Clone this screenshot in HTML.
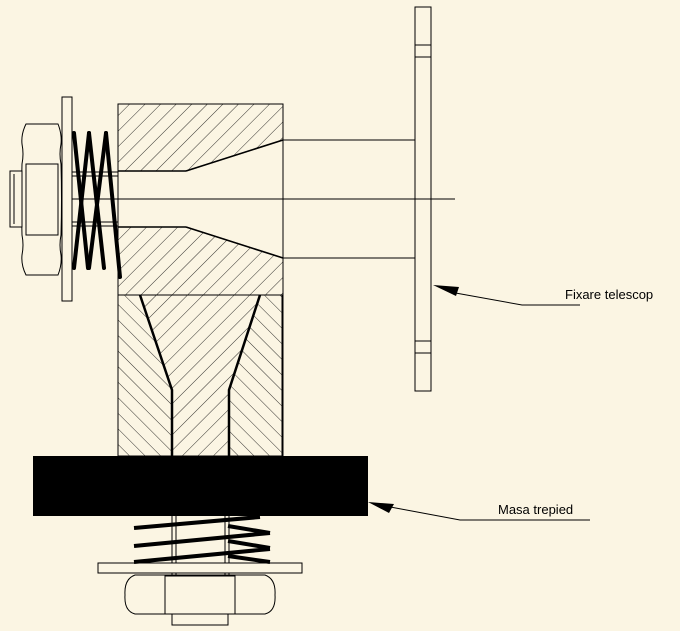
<!DOCTYPE html>
<html><head><meta charset="utf-8"><style>
html,body{margin:0;padding:0;background:#fbf5e3;}
svg{display:block;}
text{font-family:"Liberation Sans",sans-serif;font-size:13px;fill:#000;}
</style></head><body>
<svg width="680" height="631" viewBox="0 0 680 631" xmlns="http://www.w3.org/2000/svg">
<defs>
<pattern id="h1" patternUnits="userSpaceOnUse" width="11" height="11" patternTransform="rotate(45)">
<line x1="0" y1="0" x2="0" y2="11" stroke="#000" stroke-width="0.8"/></pattern>
<pattern id="h2" patternUnits="userSpaceOnUse" width="11" height="11" patternTransform="rotate(-45)">
<line x1="0" y1="0" x2="0" y2="11" stroke="#000" stroke-width="0.8"/></pattern>
</defs>
<rect width="680" height="631" fill="#fbf5e3"/>
<g fill="none" stroke="#000" stroke-width="1">
<path d="M118,104 H283 V140 L186,171 H118 Z" fill="url(#h1)"/>
<path d="M118,227 H186 L283,258 V295 H260 L229,390 V456 H172 V390 L140,295 H118 Z" fill="url(#h1)"/>
<path d="M118,295 H140 L172,390 V456 H118 Z" fill="url(#h2)"/>
<path d="M282,295 H260 L229,390 V456 H282 Z" fill="url(#h2)"/>
<rect x="118" y="104" width="165" height="352"/>
<line x1="118" y1="295" x2="283" y2="295"/>
<rect x="415" y="7" width="16" height="384" fill="#fbf5e3"/>
<line x1="415" y1="45" x2="431" y2="45"/><line x1="415" y1="57" x2="431" y2="57"/>
<line x1="415" y1="341" x2="431" y2="341"/><line x1="415" y1="353" x2="431" y2="353"/>
<line x1="283" y1="140" x2="415" y2="140"/><line x1="283" y1="258" x2="415" y2="258"/>
<line x1="30" y1="199" x2="455" y2="199"/>
<rect x="62" y="97" width="10" height="204" fill="#fbf5e3"/>
<path d="M26,124 H58 Q62,134 61,144 Q59,154 61,164 Q62,199 61,235 Q59,245 61,255 Q62,265 58,275 H26 Q21,265 22,255 Q24,245 22,235 Q21,199 22,164 Q24,154 22,144 Q21,134 26,124 Z" fill="#fbf5e3"/>
<rect x="26" y="164" width="32" height="71"/>
<rect x="10" y="171" width="12" height="56" fill="#fbf5e3"/>
<line x1="14" y1="174" x2="14" y2="224"/>
<line x1="72" y1="172" x2="118" y2="172"/><line x1="72" y1="176" x2="118" y2="176"/>
<line x1="72" y1="222" x2="118" y2="222"/><line x1="72" y1="226" x2="118" y2="226"/>
</g>
<g stroke="#000" stroke-width="1.6" fill="none">
<line x1="118" y1="171" x2="186" y2="171"/><line x1="186" y1="171" x2="283" y2="140"/>
<line x1="118" y1="227" x2="186" y2="227"/><line x1="186" y1="227" x2="283" y2="258"/>
<polyline points="140,295 172,390 172,456" stroke-width="2.5"/>
<polyline points="260,295 229,390 229,456" stroke-width="2.5"/>
</g>
<g stroke="#000" stroke-width="4" stroke-linecap="round">
<line x1="74" y1="133" x2="88" y2="268"/><line x1="89" y1="133" x2="104" y2="268"/><line x1="106" y1="133" x2="120" y2="277"/>
<line x1="74" y1="268" x2="89" y2="133"/><line x1="89" y1="268" x2="106" y2="133"/>
</g>
<rect x="33" y="456" width="335" height="60" fill="#000"/>
<g fill="none" stroke="#000" stroke-width="1">
<line x1="172" y1="516" x2="172" y2="614"/><line x1="176" y1="516" x2="176" y2="614"/>
<line x1="225" y1="516" x2="225" y2="614"/><line x1="229" y1="516" x2="229" y2="614"/>
<rect x="98" y="563" width="204" height="10" fill="#fbf5e3"/>
<path d="M135,575 H265 Q276,579 275,595 Q276,611 265,614 H135 Q124,611 125,595 Q124,579 135,575 Z" fill="#fbf5e3"/>
<rect x="165" y="576" width="70" height="38"/>
<rect x="172" y="614" width="56" height="11" fill="#fbf5e3"/>
</g>
<g stroke="#000" stroke-width="4">
<line x1="134" y1="528" x2="260" y2="517"/><line x1="134" y1="546" x2="270" y2="533"/><line x1="134" y1="562" x2="270" y2="549"/>
<line x1="228" y1="526" x2="270" y2="533"/><line x1="228" y1="541" x2="270" y2="548"/><line x1="228" y1="556" x2="270" y2="562"/>
</g>
<g stroke="#000" stroke-width="1" fill="none">
<polyline points="450,292 522,305 580,305"/>
<polyline points="385,506 460,520 590,520"/>
</g>
<polygon points="433,285 459,287 456,296" fill="#000"/>
<polygon points="368,502 394,504 389,513" fill="#000"/>
<text x="565" y="299">Fixare telescop</text>
<text x="498" y="514">Masa trepied</text>
</svg>
</body></html>
